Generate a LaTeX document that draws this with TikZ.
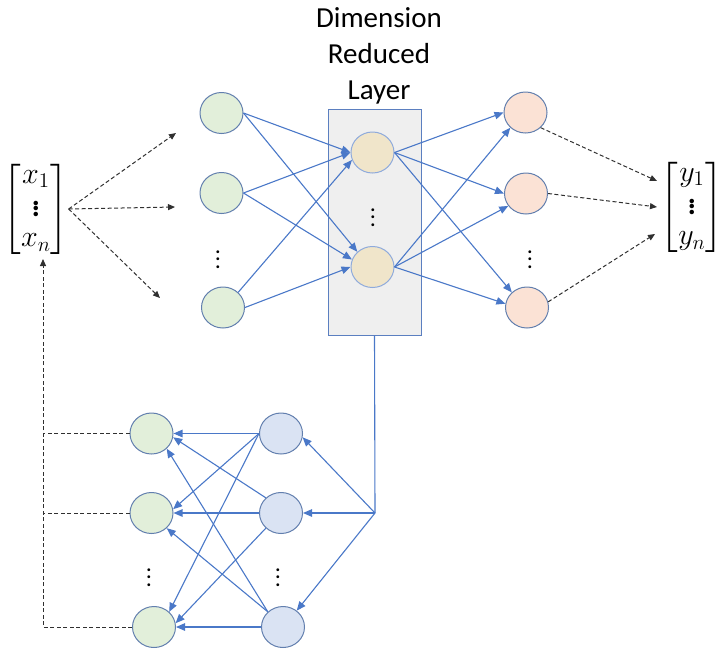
\documentclass[tikz,border=0pt]{standalone}
\usepackage{amsmath}
\usepackage{fontspec}
\setmainfont{Carlito}
\usetikzlibrary{arrows.meta,shapes.geometric}
\definecolor{edgeblue}{HTML}{4A78C8}
\definecolor{ringdark}{HTML}{627FAE}
\definecolor{ringlight}{HTML}{8EAADC}
\definecolor{fillgreen}{HTML}{E2EFDA}
\definecolor{filltan}{HTML}{F0E5CA}
\definecolor{fillpeach}{HTML}{FBE2D5}
\definecolor{fillblue}{HTML}{DAE3F3}
\definecolor{boxfill}{HTML}{EFEFEF}
\definecolor{boxline}{HTML}{5B7FC0}
\definecolor{dashcol}{HTML}{303030}
\begin{document}
\begin{tikzpicture}[x=1pt,y=-1pt,
  neuron/.style={ellipse,minimum width=43pt,minimum height=41pt,inner sep=0pt,line width=1pt},
  gneuron/.style={neuron,draw=ringdark,fill=fillgreen},
  tneuron/.style={neuron,draw=ringlight,fill=filltan},
  pneuron/.style={neuron,draw=ringdark,fill=fillpeach},
  bneuron/.style={neuron,draw=ringdark,fill=fillblue},
  link/.style={draw=edgeblue,line width=1.1pt,-{Triangle[length=9pt,width=7.5pt]}},
  dlink/.style={draw=dashcol,line width=1pt,dash pattern=on 4pt off 2.5pt},
  darrow/.style={dlink,-{Triangle[length=7pt,width=6pt]}},
  vdot/.style={inner sep=0pt,scale=1.9,font=\bfseries},
  vecnode/.style={inner sep=0pt,scale=1.45,font=\bfseries\fontsize{20.74}{20.74}\selectfont}
]
\useasboundingbox (0,0) rectangle (717,654);

% title
\node[align=center,inner sep=0pt,font=\fontsize{29}{36}\selectfont] (title) at (379,56) {Dimension\\Reduced\\Layer};

% dimension reduced box
\node[draw=boxline,fill=boxfill,line width=1pt,minimum width=93pt,minimum height=226pt,inner sep=0pt] (box) at (374.5,222) {};

% input layer
\node[gneuron] (in1) at (221.5,113) {};
\node[gneuron] (in2) at (221.5,193) {};
\node[gneuron] (in3) at (223,307.5) {};
\node[vdot] (indots) at (218,254) {$\vdots$};

% middle layer
\node[tneuron] (m1) at (372.5,152.5) {};
\node[tneuron] (m2) at (372.5,267) {};
\node[vdot] (mdots) at (373,212) {$\vdots$};

% output layer
\node[pneuron] (o1) at (525.5,112.5) {};
\node[pneuron] (o2) at (526,193.5) {};
\node[pneuron] (o3) at (527,307.5) {};
\node[vdot] (odots) at (530,254) {$\vdots$};

% bottom network
\node[gneuron] (g1) at (151.5,433.5) {};
\node[gneuron] (g2) at (151.5,513) {};
\node[gneuron] (g3) at (154,627) {};
\node[vdot] (gdots) at (149,572) {$\vdots$};
\node[bneuron] (b1) at (281,433.5) {};
\node[bneuron] (b2) at (281,513) {};
\node[bneuron] (b3) at (283,627) {};
\node[vdot] (bdots) at (278,572) {$\vdots$};

% vectors
\node[vecnode] (xvec) at (36,209) {$\begin{bmatrix}x_1\\ \vdots\\ x_n\end{bmatrix}$};
\node[vecnode] (yvec) at (692,207) {$\begin{bmatrix}y_1\\ \vdots\\ y_n\end{bmatrix}$};

% input -> middle
\draw[link] (in1.east) -- (m1.west);
\draw[link] (in1.east) -- (m2.135);
\draw[link] (in2.east) -- (m1.west);
\draw[link] (in2.east) -- (m2.160);
\draw[link] (in3.45) -- (m1.200);
\draw[link] (in3.east) -- (m2.west);

% middle -> output
\draw[link] (m1.east) -- (o1.west);
\draw[link] (m1.east) -- (o2.west);
\draw[link] (m1.east) -- (o3.135);
\draw[link] (m2.east) -- (o1.225);
\draw[link] (m2.east) -- (o2.215);
\draw[link] (m2.east) -- (o3.170);

% box -> bottom
\coordinate (split) at (375,513);
\draw[draw=edgeblue,line width=1.1pt] (box.south) -- (split);
\draw[link] (split) -- (b1.-10);
\draw[link] (split) -- (b2.east);
\draw[link] (split) -- (b3.50);

% blue -> green
\draw[link] (b1.west) -- (g1.east);
\draw[link] (b1.west) -- (g2.10);
\draw[link] (b1.west) -- (g3.45);
\draw[link] (b2.135) -- (g1.-10);
\draw[link] (b2.west) -- (g2.east);
\draw[link] (b2.225) -- (g3.10);
\draw[link] (b3.135) -- (g1.-45);
\draw[link] (b3.135) -- (g2.-45);
\draw[link] (b3.west) -- (g3.east);

% x vector -> inputs
\coordinate (t1) at (176,133);
\coordinate (t2) at (175,207);
\coordinate (t3) at (160,298);
\draw[darrow] (xvec.east) -- (t1);
\draw[darrow] (xvec.east) -- (t2);
\draw[darrow] (xvec.east) -- (t3);

% outputs -> y vector
\coordinate (u1) at (657,181);
\coordinate (u2) at (657,207);
\coordinate (u3) at (655,234);
\draw[darrow] (o1.-45) -- (u1);
\draw[darrow] (o2.east) -- (u2);
\draw[darrow] (o3.15) -- (u3);

% feedback
\coordinate (fb) at (43,627);
\coordinate (fbtop) at (43,259);
\draw[dlink] (g1.west) -- (fb |- g1.west);
\draw[dlink] (g2.west) -- (fb |- g2.west);
\draw[darrow] (g3.west) -- (fb) -- (fbtop);
\end{tikzpicture}
\end{document}
